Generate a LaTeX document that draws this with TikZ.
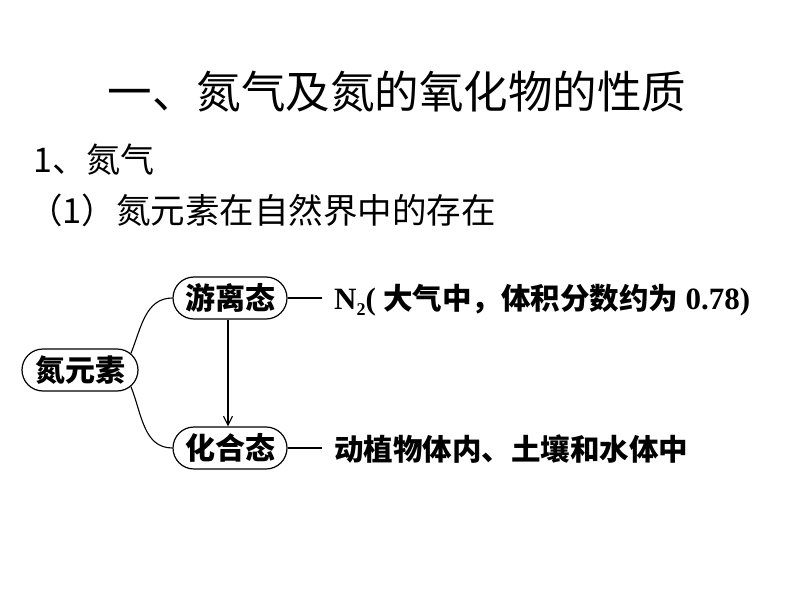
\documentclass[tikz,border=0pt]{standalone}
\usepackage{fontspec}
\setmainfont{Liberation Serif}
\newfontfamily\cjk{Noto Sans CJK SC}
\usetikzlibrary{shapes.misc,arrows.meta}
\newcommand{\subtwo}{\raisebox{-6pt}{\fontsize{18}{18}\selectfont 2}}
\begin{document}
\begin{tikzpicture}[x=1pt,y=-1pt,
  pill/.style={draw,line width=1.2pt,rounded rectangle,minimum width=114pt,minimum height=42pt,inner sep=0pt,font=\fontsize{30}{30}\selectfont\cjk\bfseries},
  conn/.style={line width=1.1pt},
  lbl/.style={anchor=west,inner sep=0pt,font=\fontsize{29.5}{30}\selectfont\bfseries}]
\useasboundingbox (0,0) rectangle (794,596);
\node[inner sep=0pt,font=\fontsize{44.5}{44}\selectfont\cjk] (title) at (397,92) {一、氮气及氮的氧化物的性质};
\node[inner sep=0pt,anchor=west,font=\fontsize{34}{34}\selectfont\cjk] (h1) at (33,160) {1、氮气};
\node[inner sep=0pt,anchor=west,font=\fontsize{34.5}{34}\selectfont\cjk] (h2) at (28,210) {（1）氮元素在自然界中的存在};
\node[pill,minimum width=116pt] (yuan) at (80,370) {氮元素};
\node[pill] (you) at (230,298) {游离态};
\node[pill] (hua) at (230,448) {化合态};
\coordinate (e1) at (322,298);
\coordinate (e2) at (322,448);
\draw[conn] (yuan.18) to[out=68,in=180] (you.west);
\draw[conn] (yuan.-18) to[out=-68,in=180] (hua.west);
\draw[conn,-{Straight Barb[length=9pt,width=9pt]}] ([xshift=-2pt]you.south) -- ([xshift=-2pt]hua.north);
\draw[conn] (you.east) -- (e1);
\draw[conn] (hua.east) -- (e2);
\node[lbl] (t1) at (334,300) {{\fontsize{31}{31}\selectfont N}\subtwo{\fontsize{31}{31}\selectfont (} {\cjk 大气中，体积分数约为} {\fontsize{31}{31}\selectfont 0.78)}};
\node[lbl] (t2) at (334,449) {\cjk 动植物体内、土壤和水体中};
\end{tikzpicture}
\end{document}
